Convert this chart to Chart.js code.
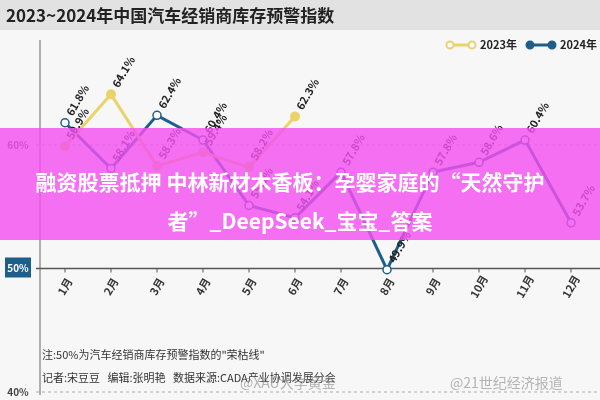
<!DOCTYPE html>
<html>
<head>
<meta charset="utf-8">
<script src="https://cdn.jsdelivr.net/npm/chart.js@4"></script>
<style>
body { margin: 0; background: #f4f4f4; }
#wrap { position: relative; width: 600px; height: 400px; font-family: "Noto Sans CJK SC", sans-serif; }
</style>
</head>
<body>
<div id="wrap"><canvas id="c" width="600" height="400"></canvas></div>
<script>
const months = ['1月','2月','3月','4月','5月','6月','7月','8月','9月','10月','11月','12月'];
const v2023 = [59.9, 64.1, 58.3, 59.4, 58.2, 62.3, null, null, null, null, null, null];
const v2024 = [61.8, 58.1, 62.4, 60.4, 55.1, 54.1, 57.8, 49.9, 57.8, 58.6, 60.4, 53.7];
const yTicks = [40, 50, 60];
const title = '2023~2024年中国汽车经销商库存预警指数';
const banner = ['融资股票抵押 中林新材木香板：孕婴家庭的“天然守护', '者”_DeepSeek_宝宝_答案'];
const notes = ['注:50%为汽车经销商库存预警指数的"荣枯线"', '记者:宋豆豆   编辑:张明艳   数据来源:CADA产业协调发展分会'];

const FONT = '"Noto Sans CJK SC", sans-serif';

const decor = {
  id: 'decor',
  beforeDraw(chart) {
    const c = chart.ctx, y = chart.scales.y, a = chart.chartArea;
    c.save();
    c.fillStyle = '#f7f7f7';
    c.fillRect(0, 0, 600, 400);
    c.fillStyle = '#e2e2e2';
    c.fillRect(0, 0, 600, 30);
    c.fillStyle = '#222';
    c.font = 'bold 17px ' + FONT;
    c.textBaseline = 'middle';
    c.fillText(title, 6, 16);
    // axis
    c.strokeStyle = '#666'; c.lineWidth = 1;
    c.beginPath(); c.moveTo(40, 40); c.lineTo(40, 395); c.stroke();
    c.strokeStyle = '#555'; c.lineWidth = 1.5;
    c.beginPath(); c.moveTo(36, y.getPixelForValue(50)); c.lineTo(600, y.getPixelForValue(50)); c.stroke();
    c.setLineDash([3, 3]); c.strokeStyle = '#aaa'; c.lineWidth = 1;
    [40, 60].forEach(v => { const p = y.getPixelForValue(v); c.beginPath(); c.moveTo(36, p); c.lineTo(600, p); c.stroke(); });
    c.setLineDash([]);
    c.font = 'bold 10px ' + FONT;
    c.textAlign = 'center';
    yTicks.forEach(v => {
      const p = y.getPixelForValue(v);
      if (v === 50) { c.fillStyle = '#1d5e8a'; c.fillRect(5, p - 11, 26, 20); c.fillStyle = '#fff'; }
      else c.fillStyle = '#444';
      c.fillText(v + '%', 18, p);
    });
    // month labels
    c.fillStyle = '#333';
    c.font = 'bold 11px ' + FONT;
    months.forEach((m, i) => {
      const x = chart.scales.x.getPixelForValue(i);
      c.save(); c.translate(x, y.getPixelForValue(50) + 18); c.rotate(-Math.PI / 3);
      c.fillText(m, 0, 0); c.restore();
      c.beginPath(); c.moveTo(x, y.getPixelForValue(50)); c.lineTo(x, y.getPixelForValue(50) + 4); c.strokeStyle = '#555'; c.stroke();
    });
    c.textAlign = 'left';
    c.font = '11px ' + FONT;
    c.fillStyle = '#333';
    c.fillText(notes[0], 42, 355);
    c.fillText(notes[1], 42, 378);
    c.fillStyle = 'rgba(150,150,150,0.7)';
    c.font = '14px ' + FONT;
    c.fillText('@XAU大学黄金', 240, 383);
    c.fillText('@21世纪经济报道', 450, 383);
    c.restore();
  },
  afterDatasetsDraw(chart) {
    const c = chart.ctx;
    c.save();
    c.font = 'bold 11px ' + FONT;
    c.fillStyle = '#222';
    c.textBaseline = 'middle';
    chart.data.datasets.forEach((ds, di) => {
      chart.getDatasetMeta(di).data.forEach((pt, i) => {
        const v = ds.data[i];
        if (v === null) return;
        c.save(); c.translate(pt.x + 4, pt.y - 8); c.rotate(-Math.PI / 3);
        c.fillText(v.toFixed(1) + '%', 0, 0); c.restore();
      });
    });
    c.restore();
  },
  afterDraw(chart) {
    const c = chart.ctx;
    c.save();
    c.fillStyle = 'rgba(244,80,240,0.82)';
    c.fillRect(0, 128, 600, 112);
    c.fillStyle = '#fff';
    c.font = 'bold 21px ' + FONT;
    c.textAlign = 'center';
    c.textBaseline = 'middle';
    c.fillText(banner[0], 290, 182);
    c.fillText(banner[1], 300, 221);
    // legend
    c.lineWidth = 3;
    [['#e9d36a', '#fff', '2023年', 450], ['#1d5e8a', '#1d5e8a', '2024年', 530]].forEach(([col, fill, t, x]) => {
      c.strokeStyle = col; c.beginPath(); c.moveTo(x, 45); c.lineTo(x + 22, 45); c.stroke();
      [x, x + 22].forEach(px => { c.beginPath(); c.arc(px, 45, 3.5, 0, Math.PI * 2); c.fillStyle = fill; c.fill(); c.lineWidth = 2; c.stroke(); });
      c.fillStyle = '#222'; c.font = 'bold 11px ' + FONT; c.textAlign = 'left';
      c.fillText(t, x + 30, 45);
      c.lineWidth = 3;
    });
    c.restore();
  }
};

new Chart(document.getElementById('c'), {
  type: 'line',
  data: {
    labels: months,
    datasets: [
      { label: '2023年', data: v2023, borderColor: '#e9d36a', backgroundColor: '#e9d36a', borderWidth: 3, pointRadius: 4, pointBorderWidth: 2, pointBackgroundColor: '#e9d36a', spanGaps: false },
      { label: '2024年', data: v2024, borderColor: '#1d5e8a', backgroundColor: '#fff', borderWidth: 3, pointRadius: 4, pointBorderWidth: 1.5, pointBackgroundColor: '#fff' }
    ]
  },
  options: {
    responsive: false,
    animation: false,
    layout: { padding: { top: 40, bottom: 8, left: 42, right: 4 } },
    plugins: { legend: { display: false }, tooltip: { enabled: false } },
    scales: {
      x: { offset: true, display: false },
      y: { min: 40, max: 68.5, display: false }
    }
  },
  plugins: [decor]
});
</script>
</body>
</html>
